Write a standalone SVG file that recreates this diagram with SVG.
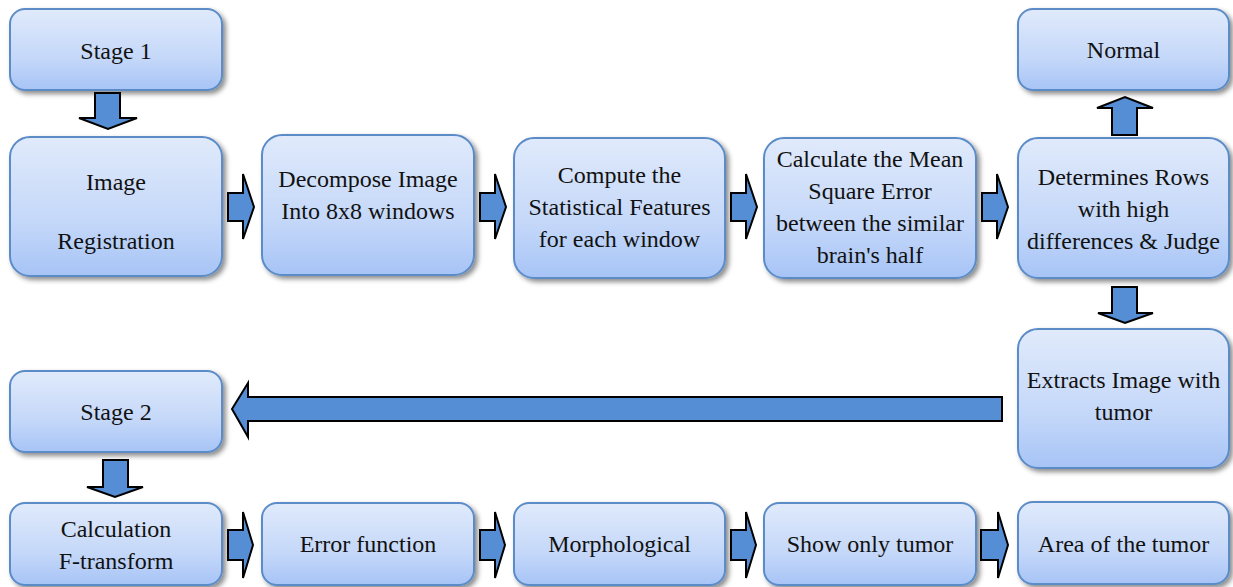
<svg xmlns="http://www.w3.org/2000/svg" width="1233" height="587" viewBox="0 0 1233 587">
<defs>
<linearGradient id="g" x1="0" y1="0" x2="0" y2="1">
<stop offset="0" stop-color="#e0eafb"/>
<stop offset="0.6" stop-color="#c5d8f9"/>
<stop offset="1" stop-color="#a7c4f6"/>
</linearGradient>
<filter id="sh" x="-10%" y="-10%" width="125%" height="130%">
<feDropShadow dx="3" dy="3" stdDeviation="2.5" flood-color="#000" flood-opacity="0.45"/>
</filter>
</defs>
<style>
.b{fill:url(#g);stroke:#5b8cc8;stroke-width:2;filter:url(#sh)}
.t{font-family:'Liberation Serif','Times New Roman',serif;font-size:24px;fill:#111;text-anchor:middle}
.a{fill:#558ed5;stroke:#000;stroke-width:2;stroke-linejoin:miter}
</style>
<g id="n-stage1"><rect class="b" x="10" y="9" width="212" height="81" rx="15"/><text class="t" x="116" y="59">Stage 1</text></g>
<g id="n-registration"><rect class="b" x="10" y="137" width="212" height="139" rx="20"/><text class="t" x="116" y="190">Image</text><text class="t" x="116" y="249">Registration</text></g>
<g id="n-decompose"><rect class="b" x="262" y="135" width="212" height="140" rx="20"/><text class="t" x="368" y="187">Decompose Image</text><text class="t" x="368" y="219">Into 8x8 windows</text></g>
<g id="n-compute"><rect class="b" x="514" y="138" width="211" height="140" rx="20"/><text class="t" x="619.5" y="183">Compute the</text><text class="t" x="619.5" y="215">Statistical Features</text><text class="t" x="619.5" y="247">for each window</text></g>
<g id="n-mse"><rect class="b" x="764" y="138" width="212" height="140" rx="20"/><text class="t" x="870" y="167">Calculate the Mean</text><text class="t" x="870" y="199">Square Error</text><text class="t" x="870" y="231">between the similar</text><text class="t" x="870" y="263">brain's half</text></g>
<g id="n-determines"><rect class="b" x="1018" y="138" width="211" height="140" rx="20"/><text class="t" x="1123.5" y="185">Determines Rows</text><text class="t" x="1123.5" y="217">with high</text><text class="t" x="1123.5" y="249">differences &amp; Judge</text></g>
<g id="n-normal"><rect class="b" x="1018" y="9" width="211" height="81" rx="15"/><text class="t" x="1123.5" y="58">Normal</text></g>
<g id="n-extracts"><rect class="b" x="1018" y="329" width="211" height="139" rx="20"/><text class="t" x="1123.5" y="388">Extracts Image with</text><text class="t" x="1123.5" y="420">tumor</text></g>
<g id="n-stage2"><rect class="b" x="10" y="371" width="212" height="81" rx="15"/><text class="t" x="116" y="420">Stage 2</text></g>
<g id="n-ftransform"><rect class="b" x="10" y="503" width="212" height="82" rx="15"/><text class="t" x="116" y="537">Calculation</text><text class="t" x="116" y="569">F-transform</text></g>
<g id="n-error"><rect class="b" x="262" y="503" width="212" height="82" rx="15"/><text class="t" x="368" y="552">Error function</text></g>
<g id="n-morph"><rect class="b" x="514" y="503" width="211" height="82" rx="15"/><text class="t" x="619.5" y="552">Morphological</text></g>
<g id="n-show"><rect class="b" x="764" y="503" width="212" height="82" rx="15"/><text class="t" x="870" y="552">Show only tumor</text></g>
<g id="n-area"><rect class="b" x="1018" y="502" width="211" height="82" rx="15"/><text class="t" x="1123.5" y="552">Area of the tumor</text></g>
<g id="connectors">
<polygon class="a" points="95,93 120,93 120,118 137,118 108,129 79,118 95,118"/>
<polygon class="a" points="1112,135 1137,135 1137,108 1153,108 1125,97 1097,108 1112,108"/>
<polygon class="a" points="1112,287 1137,287 1137,313 1153,313 1125,323 1098,313 1112,313"/>
<polygon class="a" points="103,460 128,460 128,487 143,487 115,497 87,487 103,487"/>
<polygon class="a" points="1002,397 1002,421 248,421 248,437 232,409 248,383 248,397"/>
<polygon class="a" points="228,193 243,193 243,174 254,207 243,239 243,221 228,221"/>
<polygon class="a" points="480,193 495,193 495,174 506,207 495,239 495,221 480,221"/>
<polygon class="a" points="731,193 746,193 746,174 757,207 746,239 746,221 731,221"/>
<polygon class="a" points="982,193 997,193 997,174 1008,207 997,239 997,221 982,221"/>
<polygon class="a" points="228,530 243,530 243,512 253,545 243,578 243,560 228,560"/>
<polygon class="a" points="480,530 495,530 495,512 505,545 495,578 495,560 480,560"/>
<polygon class="a" points="731,530 746,530 746,512 756,545 746,578 746,560 731,560"/>
<polygon class="a" points="981,530 998,530 998,512 1008,545 998,578 998,560 981,560"/>
</g>
</svg>
